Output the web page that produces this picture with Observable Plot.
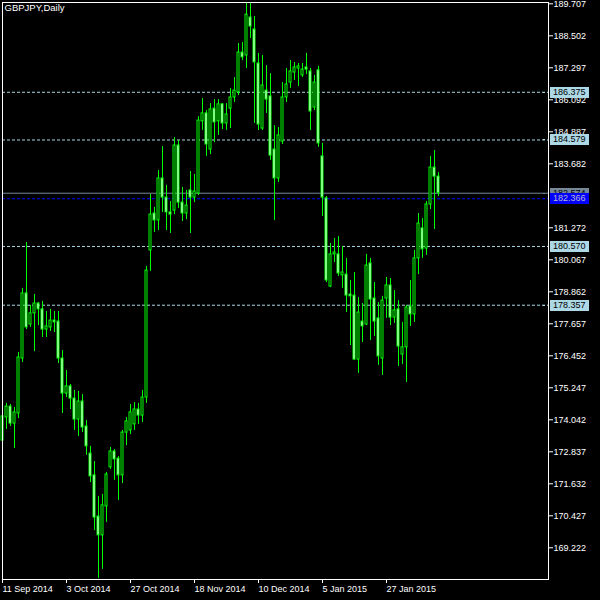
<!DOCTYPE html>
<html><head><meta charset="utf-8">
<script src="https://cdn.jsdelivr.net/npm/d3@7"></script>
<script src="https://cdn.jsdelivr.net/npm/@observablehq/plot@0.6"></script>
<style>html,body{margin:0;padding:0;background:#000;} #chart{width:600px;height:600px;}</style>
</head><body><div id="chart"></div>
<script>
const opens = [173.26,174.13,174.54,173.90,174.28,176.35,178.80,177.63,178.05,178.42,
178.20,177.44,177.52,177.78,177.74,176.35,175.03,175.30,174.84,174.05,
174.73,173.79,172.77,171.95,170.40,169.69,170.78,172.25,172.85,172.58,
171.95,173.56,173.64,173.87,174.43,174.20,174.88,180.42,181.81,181.55,
183.13,182.41,181.85,181.92,184.37,182.22,181.81,182.68,182.41,182.56,
185.28,185.58,184.22,185.76,185.28,185.92,185.20,185.76,186.18,186.37,
187.87,187.76,189.19,188.74,187.46,185.01,186.44,186.22,184.22,183.13,
184.52,186.18,186.74,187.12,187.27,187.01,187.31,187.16,185.80,187.20,
183.96,182.38,179.06,180.27,180.27,179.48,179.51,178.76,178.72,176.31,
177.74,177.63,179.93,178.61,177.86,176.35,178.61,179.10,177.89,178.20,
176.50,176.77,178.31,178.01,180.12,181.25,180.49,182.15,183.54,183.20];
const highs = [174.39,174.66,174.62,174.51,176.58,178.99,180.72,178.35,178.76,178.46,
178.50,178.12,178.20,178.12,178.12,176.65,175.90,175.37,175.15,175.11,
174.99,174.02,173.04,172.47,171.15,171.23,172.06,173.00,172.92,172.66,
173.64,174.13,174.62,174.69,174.66,175.15,179.82,182.53,182.04,183.43,
184.33,182.87,182.26,184.67,184.56,182.79,182.68,183.39,183.28,185.46,
186.14,185.69,185.95,186.10,186.10,185.95,185.95,186.52,186.93,188.21,
188.25,189.72,189.72,189.23,187.84,187.76,187.38,187.08,185.12,185.05,
186.74,187.27,187.57,187.50,187.46,187.46,187.84,187.27,187.01,187.35,
184.45,182.45,180.68,180.87,180.94,180.57,180.12,179.29,179.59,178.65,
178.42,180.27,180.12,179.21,178.46,178.69,179.40,179.36,178.91,178.53,
177.71,178.35,179.29,180.42,181.81,181.62,182.26,183.96,184.18,183.35];
const lows = [173.00,173.68,173.79,172.96,174.09,176.20,177.44,177.52,176.61,177.59,
177.14,177.14,177.37,177.33,176.16,174.28,174.88,174.43,173.64,173.41,
173.56,172.70,171.68,169.87,168.07,168.41,170.18,172.17,171.76,171.00,
171.64,173.07,173.49,173.64,173.87,173.94,174.66,179.63,181.10,181.17,
181.85,181.17,181.06,181.77,182.00,181.51,181.58,181.06,182.22,182.49,
184.94,183.96,184.03,184.48,184.75,184.97,184.94,185.01,185.99,186.25,
187.57,187.27,188.40,185.20,184.94,184.94,185.58,183.81,181.55,182.98,
184.41,185.99,186.52,186.82,186.59,186.93,187.04,184.94,185.69,184.30,
181.70,179.21,179.02,179.97,179.44,178.99,178.08,176.84,176.28,175.79,
176.95,177.59,177.03,177.18,176.09,175.71,177.86,177.59,177.67,176.05,
176.12,175.45,177.56,177.71,179.51,180.12,180.23,181.96,181.21,182.45];
const closes = [174.17,174.54,173.90,174.32,176.39,178.80,177.52,178.05,178.42,178.20,
177.44,177.56,177.78,177.71,176.35,175.03,175.30,174.84,174.05,174.73,
173.75,173.04,171.91,170.36,169.69,170.82,171.98,172.85,172.55,171.95,
173.56,173.98,174.32,174.43,174.20,174.88,179.66,181.77,181.55,183.13,
182.41,181.85,181.77,184.37,182.22,181.81,182.11,182.41,182.64,185.31,
185.58,184.41,185.73,185.24,185.92,185.20,185.54,186.18,186.44,187.87,
187.69,189.30,188.85,187.50,185.16,186.63,186.10,183.99,183.13,184.75,
186.18,186.67,187.16,187.31,187.35,187.23,187.23,185.65,186.74,184.45,
182.41,179.29,180.27,180.34,179.55,179.59,178.72,178.69,176.31,178.08,
177.56,179.85,178.57,177.74,176.43,178.53,179.10,177.89,178.16,176.80,
176.77,178.27,178.01,180.12,181.43,180.46,182.15,183.54,183.20,182.574];

const tickIndex = [0, 16, 32, 48, 64, 80, 96];
const tickLabels = ["11 Sep 2014","3 Oct 2014","27 Oct 2014","18 Nov 2014","10 Dec 2014","5 Jan 2015","27 Jan 2015"];
const priceTicks = [189.707,188.502,187.297,186.092,184.887,183.682,181.272,180.067,178.862,177.657,176.452,175.247,174.042,172.837,171.632,170.427,169.222];
const levelLines = [186.375, 184.579, 180.570, 178.357];
const bidPrice = 182.574;
const bluePrice = 182.366;
const title = "GBPJPY,Daily";

const candles = opens.map((o, i) => ({i, open: o, high: highs[i], low: lows[i], close: closes[i]}));
const FONT = "Liberation Sans, Arial, sans-serif";
const GREEN = "#00ff00";

const plot = Plot.plot({
  width: 600, height: 600,
  marginLeft: 2, marginTop: 2, marginRight: 52, marginBottom: 21,
  style: {background: "#000", color: "#fff", fontFamily: FONT, fontSize: "9px"},
  x: {domain: [0, 136.5], axis: null},
  y: {domain: [168.028, 189.756], axis: null},
  marks: [
    Plot.ruleY(levelLines, {stroke: "#add8e6", strokeDasharray: "3,2"}),
    Plot.ruleY([bidPrice], {stroke: "#778899"}),
    Plot.ruleY([bluePrice], {stroke: "#0000ff", strokeDasharray: "3,2"}),
    Plot.ruleX(candles, {x: "i", y1: "low", y2: "high", stroke: GREEN}),
    Plot.rect(candles, {filter: d => d.close >= d.open, x1: d => d.i - 0.25, x2: d => d.i + 0.25, y1: "open", y2: "close", fill: "#000", stroke: GREEN}),
    Plot.rect(candles, {filter: d => d.close < d.open, x1: d => d.i - 0.25, x2: d => d.i + 0.25, y1: "open", y2: "close", fill: "#fff", stroke: GREEN}),
    Plot.frame({stroke: "#fff"}),
    Plot.axisY(priceTicks, {anchor: "right", label: null, tickSize: 4, tickPadding: 1, tickFormat: d => d.toFixed(3)}),
    Plot.axisX(tickIndex, {anchor: "bottom", label: null, tickSize: 4, tickPadding: 2, textAnchor: "start", tickFormat: d => tickLabels[tickIndex.indexOf(d)]}),
    Plot.text([title], {frameAnchor: "top-left", dx: 2, dy: 2, lineAnchor: "top", textAnchor: "start", fill: "#fff", fontSize: 9.5})
  ]
});

const svg = d3.select(plot);
const yS = plot.scale("y");
const tags = [
  ...levelLines.map(v => ({v, bg: "#add8e6", fg: "#000"})),
  {v: bidPrice, bg: "#778899", fg: "#000"},
  {v: bluePrice, bg: "#0000ff", fg: "#b8b8c8"}
];
const g = svg.append("g").attr("font-family", FONT).attr("font-size", 9).attr("text-anchor", "start");
for (const t of tags) {
  const y = Math.round(yS.apply(t.v));
  g.append("rect").attr("x", 550).attr("y", y - 5).attr("width", 39).attr("height", 11).attr("fill", t.bg);
  g.append("text").attr("x", 553).attr("y", y).attr("dy", "0.35em").attr("fill", t.fg).text(t.v.toFixed(3));
  g.append("line").attr("x1", 543).attr("x2", 545).attr("y1", y + 0.5).attr("y2", y + 0.5).attr("stroke", t.bg);
}
document.getElementById("chart").appendChild(plot);
</script>
</body></html>
